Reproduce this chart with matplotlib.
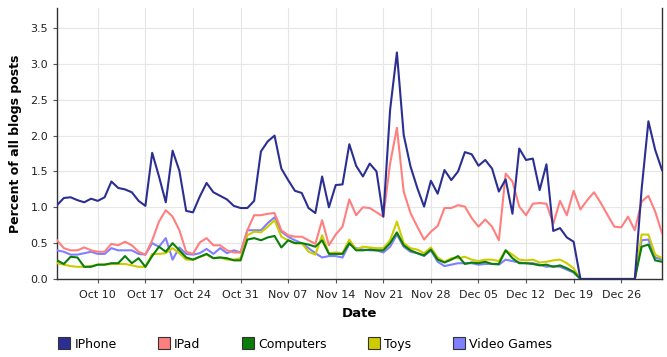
import pandas as pd
import matplotlib.pyplot as plt
import matplotlib.dates as mdates
from matplotlib.lines import Line2D

# Daily values, Oct 4 2010 -> Jan 1 2011 (percent of all blog posts)
dates = pd.date_range(start='2010-10-04', periods=90, freq='D')

iphone = [1.03, 1.13, 1.14, 1.10, 1.07, 1.12, 1.09, 1.14, 1.36, 1.27,
          1.25, 1.21, 1.09, 1.02, 1.76, 1.43, 1.07, 1.79, 1.51, 0.95,
          0.93, 1.15, 1.34, 1.21, 1.16, 1.11, 1.02, 0.99, 0.99, 1.09,
          1.78, 1.92, 2.00, 1.54, 1.38, 1.23, 1.20, 0.99, 0.92, 1.43,
          1.00, 1.31, 1.32, 1.88, 1.58, 1.43, 1.61, 1.50, 0.87, 2.36,
          3.16, 2.01, 1.57, 1.27, 1.01, 1.37, 1.19, 1.52, 1.38, 1.50,
          1.77, 1.74, 1.58, 1.66, 1.54, 1.22, 1.39, 0.91, 1.82, 1.66,
          1.68, 1.24, 1.60, 0.67, 0.71, 0.58, 0.52, 0.00, 0.00, 0.00,
          0.00, 0.00, 0.00, 0.00, 0.00, 0.00, 1.25, 2.20, 1.80, 1.52]

ipad = [0.54, 0.43, 0.40, 0.40, 0.44, 0.40, 0.38, 0.38, 0.49, 0.47,
        0.52, 0.47, 0.38, 0.34, 0.54, 0.80, 0.96, 0.87, 0.68, 0.38,
        0.35, 0.51, 0.57, 0.47, 0.47, 0.40, 0.37, 0.37, 0.68, 0.89,
        0.89, 0.91, 0.92, 0.68, 0.61, 0.59, 0.59, 0.54, 0.49, 0.82,
        0.47, 0.62, 0.73, 1.11, 0.89, 1.00, 0.99, 0.93, 0.87, 1.61,
        2.11, 1.22, 0.92, 0.73, 0.55, 0.66, 0.74, 0.99, 0.99, 1.03,
        1.01, 0.85, 0.73, 0.83, 0.73, 0.54, 1.47, 1.36, 1.01, 0.89,
        1.05, 1.06, 1.05, 0.77, 1.09, 0.89, 1.23, 0.97, 1.10, 1.21,
        1.06, 0.89, 0.73, 0.72, 0.87, 0.68, 1.08, 1.16, 0.94, 0.64]

computers = [0.26, 0.21, 0.31, 0.30, 0.17, 0.17, 0.20, 0.20, 0.22, 0.22,
             0.32, 0.22, 0.29, 0.17, 0.32, 0.45, 0.38, 0.50, 0.40, 0.30,
             0.27, 0.31, 0.35, 0.29, 0.30, 0.29, 0.26, 0.26, 0.55, 0.57,
             0.54, 0.58, 0.60, 0.44, 0.54, 0.50, 0.50, 0.48, 0.45, 0.54,
             0.35, 0.35, 0.35, 0.50, 0.40, 0.40, 0.41, 0.40, 0.40, 0.50,
             0.65, 0.47, 0.40, 0.36, 0.33, 0.41, 0.27, 0.23, 0.27, 0.32,
             0.21, 0.23, 0.22, 0.24, 0.21, 0.21, 0.40, 0.29, 0.22, 0.22,
             0.21, 0.19, 0.20, 0.17, 0.19, 0.15, 0.10, 0.00, 0.00, 0.00,
             0.00, 0.00, 0.00, 0.00, 0.00, 0.00, 0.45, 0.48, 0.26, 0.24]

toys = [0.22, 0.20, 0.18, 0.17, 0.17, 0.18, 0.20, 0.20, 0.21, 0.21,
        0.21, 0.19, 0.17, 0.17, 0.35, 0.35, 0.36, 0.43, 0.36, 0.27,
        0.27, 0.31, 0.34, 0.29, 0.30, 0.27, 0.27, 0.29, 0.61, 0.66,
        0.65, 0.73, 0.82, 0.59, 0.54, 0.50, 0.50, 0.38, 0.34, 0.61,
        0.36, 0.37, 0.36, 0.55, 0.41, 0.45, 0.44, 0.43, 0.43, 0.54,
        0.80, 0.50, 0.43, 0.41, 0.36, 0.44, 0.30, 0.24, 0.29, 0.29,
        0.31, 0.27, 0.25, 0.27, 0.27, 0.25, 0.40, 0.34, 0.27, 0.26,
        0.27, 0.23, 0.24, 0.26, 0.27, 0.22, 0.15, 0.00, 0.00, 0.00,
        0.00, 0.00, 0.00, 0.00, 0.00, 0.00, 0.62, 0.62, 0.34, 0.29]

video_games = [0.40, 0.38, 0.34, 0.34, 0.36, 0.38, 0.35, 0.35, 0.43, 0.40,
               0.40, 0.40, 0.35, 0.34, 0.50, 0.45, 0.57, 0.27, 0.44, 0.35,
               0.34, 0.36, 0.42, 0.35, 0.43, 0.36, 0.40, 0.37, 0.68, 0.68,
               0.68, 0.78, 0.86, 0.66, 0.59, 0.54, 0.50, 0.43, 0.36, 0.30,
               0.32, 0.32, 0.30, 0.49, 0.43, 0.41, 0.40, 0.40, 0.37, 0.45,
               0.62, 0.45, 0.38, 0.36, 0.32, 0.40, 0.24, 0.18, 0.20, 0.22,
               0.22, 0.22, 0.20, 0.21, 0.21, 0.20, 0.27, 0.25, 0.23, 0.22,
               0.22, 0.20, 0.17, 0.18, 0.17, 0.13, 0.09, 0.00, 0.00, 0.00,
               0.00, 0.00, 0.00, 0.00, 0.00, 0.00, 0.54, 0.55, 0.30, 0.27]

labels = ['IPhone', 'IPad', 'Computers', 'Toys', 'Video Games']
series = [iphone, ipad, computers, toys, video_games]
colors = ['#2b2f91', '#ff7f7f', '#0a7d0a', '#cccc00', '#7f7fff']
tick_dates = pd.date_range(start='2010-10-10', end='2010-12-26', freq='7D')

fig = plt.figure(figsize=(6.67, 3.57), dpi=100)
ax = fig.add_axes([0.0855, 0.2185, 0.907, 0.759])

# draw back to front so IPhone sits on top
for i in [4, 3, 1, 2, 0]:
    ax.plot(dates, series[i], color=colors[i], linewidth=1.5, zorder=3 + (4 - i))

ax.set_xlim(dates[0], dates[-1])
ax.set_ylim(0, 3.78)
ax.set_yticks([0.0, 0.5, 1.0, 1.5, 2.0, 2.5, 3.0, 3.5])
ax.yaxis.set_major_formatter(plt.FormatStrFormatter('%.1f'))
ax.set_xticks(tick_dates)
ax.xaxis.set_major_formatter(mdates.DateFormatter('%b %d'))
ax.tick_params(labelsize=8, length=3, color='#555555', labelcolor='#222222')
ax.tick_params(axis='x', pad=5)
ax.grid(True, color='#e6e6e6', linewidth=0.8)
ax.set_axisbelow(True)

ax.spines['top'].set_visible(False)
for s in ['left', 'bottom', 'right']:
    ax.spines[s].set_color('#333333')
    ax.spines[s].set_linewidth(1.0)

ax.set_xlabel('Date', fontsize=9.5, fontweight='bold', labelpad=5)
ax.set_ylabel('Percent of all blogs posts', fontsize=9, fontweight='bold', labelpad=6)

# legend with square swatches at the bottom
handles = [Line2D([], [], linestyle='none', marker='s', markersize=8,
                  markerfacecolor=c, markeredgecolor='#333333', markeredgewidth=0.8)
           for c in colors]
fig.legend(handles, labels, loc='center', bbox_to_anchor=(0.457, 0.036), ncol=5,
           frameon=False, fontsize=9, handletextpad=0.3, columnspacing=3.3,
           handlelength=1.0)

plt.savefig('out.png', dpi=100)
